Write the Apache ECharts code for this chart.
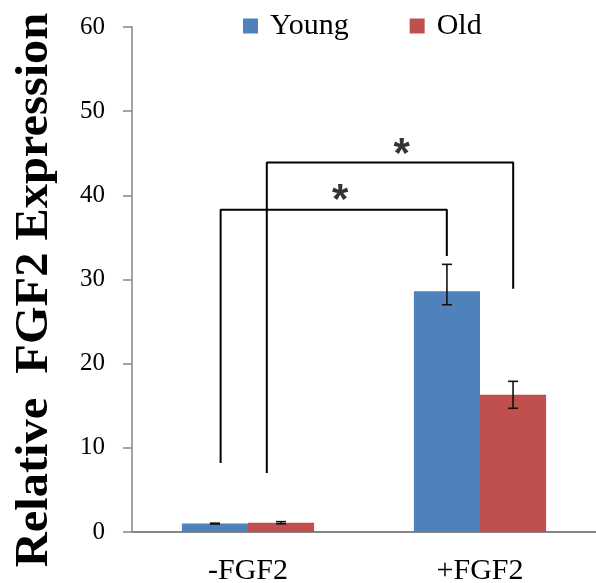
<!DOCTYPE html>
<html>
<head>
<meta charset="utf-8">
<script src="https://cdn.jsdelivr.net/npm/echarts@6/dist/echarts.min.js"></script>
<style>
  html, body { margin: 0; padding: 0; background: #fff; }
  #chart { width: 596px; height: 583px; }
</style>
</head>
<body>
<div id="chart"></div>
<script>
// Groups and measured expression
const categories = ['-FGF2', '+FGF2'];
const seriesNames = ['Young', 'Old'];
const youngValues = [1.0, 28.6];
const oldValues = [1.1, 16.3];
// Error bar extents (upper, lower) relative to each mean
const youngErrUp = [0.05, 3.2];
const youngErrDown = [0.05, 1.6];
const oldErrUp = [0.13, 1.6];
const oldErrDown = [0.13, 1.6];
// Y axis scale
const yMin = 0, yMax = 60, yStep = 10;

// Significance brackets: x in category units (group centres at 0 and 1),
// y in expression units: [leftX, leftBottom, top, rightX, rightBottom]
const brackets = [
  [-0.118, 8.2, 38.3, 0.857, 32.8],
  [0.081, 7.0, 43.9, 1.143, 28.9]
];
// Significance stars: [x, y]
const stars = [
  [0.397, 40.5],
  [0.662, 45.9]
];

const blue = '#4F81BD';
const red = '#C0504D';
const axisGray = '#868686';
const serif = '"Liberation Serif", "Times New Roman", serif';
const catGap = 0.43;

// Error bar rows: [categoryIndex, low, high, side(-1 young / +1 old)]
const errRows = [];
categories.forEach((c, i) => {
  errRows.push([i, youngValues[i] - youngErrDown[i], youngValues[i] + youngErrUp[i], -1]);
  errRows.push([i, oldValues[i] - oldErrDown[i], oldValues[i] + oldErrUp[i], 1]);
});

const bracketSeries = brackets.map(b => ({
  type: 'line',
  xAxisIndex: 1,
  yAxisIndex: 0,
  data: [[b[0], b[1]], [b[0], b[2]], [b[3], b[2]], [b[3], b[4]]],
  symbol: 'none',
  lineStyle: { color: '#000', width: 2 },
  silent: true,
  z: 5
}));

const chart = echarts.init(document.getElementById('chart'), null, { renderer: 'canvas' });
chart.setOption({
  animation: false,
  backgroundColor: '#fff',
  grid: { left: 132, right: 0, top: 27, bottom: 51, containLabel: false, outerBoundsMode: 'none' },
  legend: {
    data: seriesNames,
    left: 243,
    top: 11,
    padding: 0,
    icon: 'rect',
    itemWidth: 15,
    itemHeight: 15,
    itemGap: 61,
    textStyle: { fontFamily: serif, fontSize: 30, color: '#000', padding: [0, 0, 0, 7] }
  },
  xAxis: [
    {
      type: 'category',
      data: categories,
      axisLine: { lineStyle: { color: axisGray, width: 2 } },
      axisTick: { show: false },
      axisLabel: { fontFamily: serif, fontSize: 30, color: '#000', margin: 24 }
    },
    {
      type: 'value',
      min: -0.5,
      max: 1.5,
      show: false
    }
  ],
  yAxis: {
    type: 'value',
    min: yMin,
    max: yMax,
    interval: yStep,
    axisLine: { show: true, onZero: false, lineStyle: { color: axisGray, width: 1.5 } },
    axisTick: { show: true, length: 9, lineStyle: { color: axisGray, width: 1.5 } },
    splitLine: { show: false },
    axisLabel: { fontFamily: serif, fontSize: 25, color: '#000', margin: 27 }
  },
  graphic: [{
    type: 'text',
    x: 35,
    y: 290,
    rotation: Math.PI / 2,
    scaleX: 1.03,
    style: {
      text: 'Relative  FGF2 Expression',
      font: 'bold 47px "Liberation Serif"',
      fill: '#000',
      align: 'center',
      verticalAlign: 'middle'
    }
  }],
  series: [
    {
      name: 'Young',
      type: 'bar',
      data: youngValues,
      itemStyle: { color: blue },
      barGap: '0%',
      barCategoryGap: (catGap * 100) + '%'
    },
    {
      name: 'Old',
      type: 'bar',
      data: oldValues,
      itemStyle: { color: red },
      barGap: '0%',
      barCategoryGap: (catGap * 100) + '%'
    },
    {
      type: 'custom',
      name: 'errors',
      xAxisIndex: 0,
      data: errRows,
      encode: { x: 0, y: [1, 2] },
      silent: true,
      z: 6,
      renderItem: function (params, api) {
        const idx = api.value(0);
        const lo = api.coord([idx, api.value(1)]);
        const hi = api.coord([idx, api.value(2)]);
        const band = api.size([1, 0])[0];
        const barW = band * (1 - catGap) / 2;
        const x = lo[0] + api.value(3) * barW / 2;
        const cap = 5;
        const style = { stroke: '#111', lineWidth: 1.6 };
        return {
          type: 'group',
          children: [
            { type: 'line', shape: { x1: x, y1: lo[1], x2: x, y2: hi[1] }, style },
            { type: 'line', shape: { x1: x - cap, y1: lo[1], x2: x + cap, y2: lo[1] }, style },
            { type: 'line', shape: { x1: x - cap, y1: hi[1], x2: x + cap, y2: hi[1] }, style }
          ]
        };
      }
    },
    ...bracketSeries,
    {
      type: 'scatter',
      xAxisIndex: 1,
      yAxisIndex: 0,
      data: stars,
      symbolSize: 1,
      itemStyle: { color: 'rgba(0,0,0,0)' },
      silent: true,
      z: 7,
      label: {
        show: true,
        position: 'inside',
        formatter: '*',
        fontFamily: 'Liberation Sans',
        fontWeight: 'bold',
        fontSize: 42,
        color: '#000',
        offset: [0, 10]
      }
    }
  ]
});
</script>
</body>
</html>
